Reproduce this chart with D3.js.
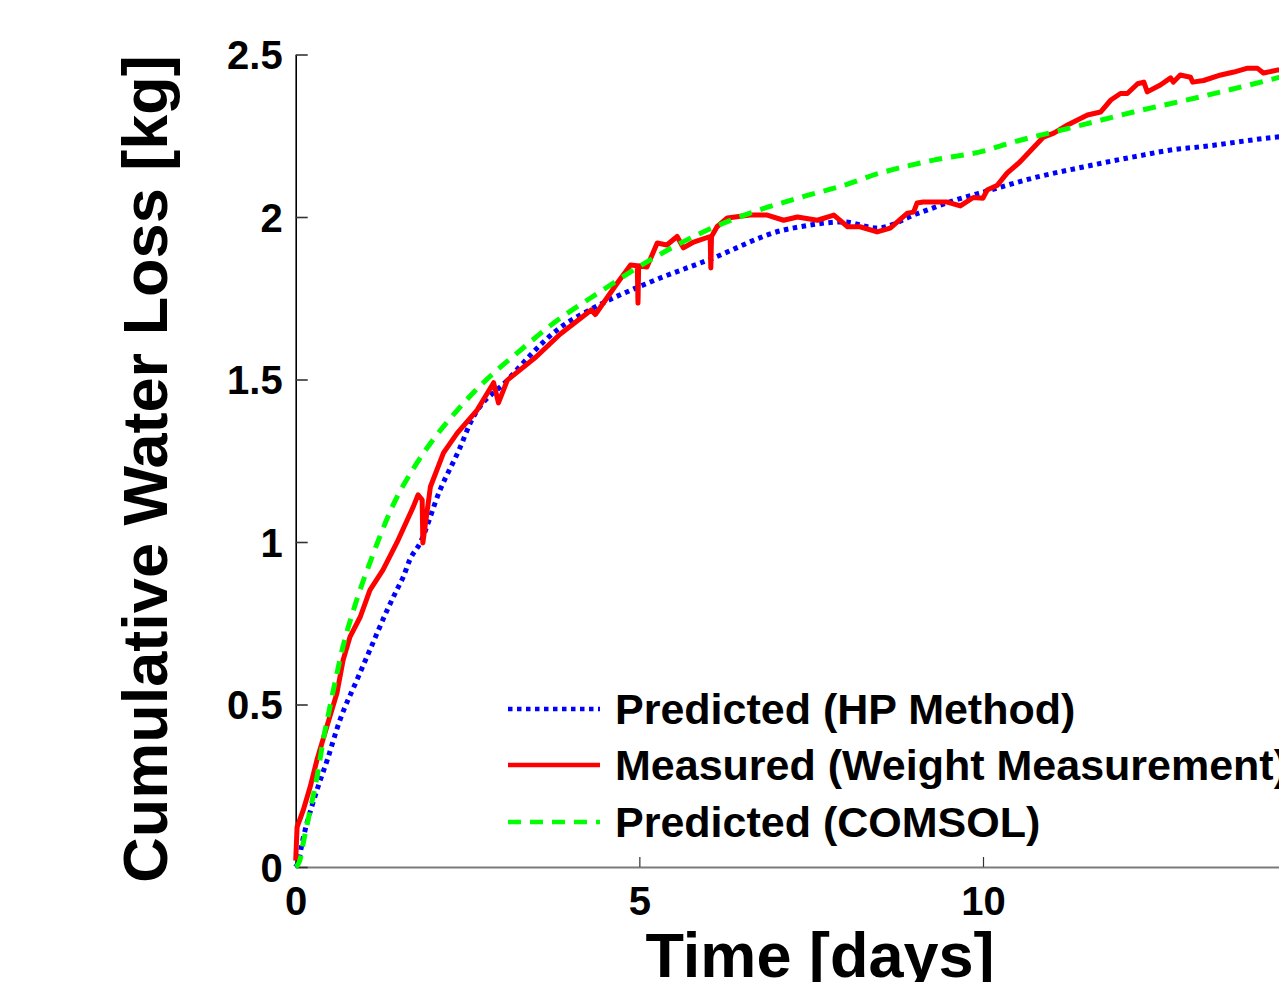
<!DOCTYPE html>
<html>
<head>
<meta charset="utf-8">
<script src="https://cdn.jsdelivr.net/npm/d3@7"></script>
<style>
  html, body { margin: 0; padding: 0; background: #fff; overflow: hidden; }
  svg { display: block; }
  svg text { font-family: Arial, "Liberation Sans", Helvetica, sans-serif; font-weight: 700; }
</style>
</head>
<body>
<svg id="chart" width="1279" height="982"></svg>
<script>
// Time [days] and cumulative water loss [kg]
const hpDays = [0, 0.03, 0.11, 0.31, 0.46, 0.64, 0.89, 1.08, 1.33, 1.47, 1.56, 1.66, 1.81, 2.10, 2.39, 2.54, 3.08, 3.85, 4.33, 5.16, 6.03, 7.10, 7.34, 7.97, 8.46, 9.04, 9.57, 10.06, 10.73, 11.46, 12.19, 12.87, 13.12, 14.28, 14.5];
const hpLoss = [0, 0.012, 0.09, 0.237, 0.33, 0.45, 0.575, 0.668, 0.79, 0.852, 0.89, 0.945, 0.997, 1.16, 1.29, 1.366, 1.498, 1.66, 1.72, 1.80, 1.87, 1.96, 1.97, 1.985, 1.966, 2.01, 2.05, 2.08, 2.12, 2.154, 2.185, 2.21, 2.215, 2.246, 2.25];

const measDays = [0, 0.02, 0.11, 0.21, 0.31, 0.45, 0.60, 0.69, 0.79, 0.94, 1.08, 1.27, 1.47, 1.71, 1.78, 1.84, 1.85, 1.96, 2.15, 2.35, 2.64, 2.88, 2.95, 3.08, 3.5, 3.85, 4.30, 4.36, 4.68, 4.87, 4.97, 4.98, 4.99, 5.11, 5.26, 5.40, 5.55, 5.64, 5.79, 6.03, 6.04, 6.05, 6.13, 6.28, 6.61, 6.86, 7.10, 7.30, 7.59, 7.83, 8.03, 8.21, 8.46, 8.65, 8.90, 8.99, 9.04, 9.13, 9.48, 9.67, 9.86, 10.0, 10.06, 10.21, 10.35, 10.54, 10.88, 11.03, 11.23, 11.52, 11.71, 11.86, 12.0, 12.1, 12.25, 12.34, 12.39, 12.58, 12.73, 12.77, 12.87, 13.02, 13.05, 13.21, 13.46, 13.65, 13.85, 13.99, 14.08, 14.28, 14.5];
const measLoss = [0.02, 0.123, 0.175, 0.246, 0.33, 0.43, 0.535, 0.637, 0.708, 0.77, 0.852, 0.914, 0.997, 1.108, 1.145, 1.13, 0.997, 1.17, 1.274, 1.335, 1.406, 1.49, 1.428, 1.498, 1.57, 1.64, 1.714, 1.70, 1.797, 1.852, 1.85, 1.735, 1.85, 1.846, 1.92, 1.914, 1.94, 1.905, 1.923, 1.94, 1.843, 1.94, 1.97, 1.997, 2.006, 2.006, 1.99, 2.0, 1.99, 2.006, 1.97, 1.97, 1.954, 1.966, 2.012, 2.015, 2.043, 2.046, 2.046, 2.034, 2.06, 2.058, 2.083, 2.098, 2.135, 2.17, 2.246, 2.258, 2.283, 2.314, 2.323, 2.36, 2.38, 2.38, 2.41, 2.415, 2.385, 2.406, 2.428, 2.415, 2.437, 2.43, 2.415, 2.42, 2.437, 2.446, 2.458, 2.458, 2.443, 2.452, 2.455];

const comsolDays = [0, 0.06, 0.11, 0.21, 0.31, 0.40, 0.50, 0.60, 0.69, 0.84, 0.97, 1.06, 1.23, 1.42, 1.71, 2.0, 2.35, 2.68, 3.27, 3.70, 4.43, 5.16, 5.89, 6.61, 7.34, 8.07, 8.32, 9.28, 10.06, 10.3, 11.23, 12.19, 13.17, 14.28, 14.5];
const comsolLoss = [0, 0.02, 0.074, 0.175, 0.277, 0.39, 0.495, 0.596, 0.68, 0.79, 0.873, 0.925, 1.02, 1.115, 1.225, 1.315, 1.405, 1.48, 1.59, 1.665, 1.77, 1.868, 1.95, 2.012, 2.06, 2.104, 2.123, 2.175, 2.206, 2.222, 2.272, 2.323, 2.37, 2.428, 2.44];

const xTicks = [0, 5, 10];
const yTicks = [0, 0.5, 1, 1.5, 2, 2.5];
const seriesNames = ["Predicted (HP Method)", "Measured (Weight Measurement)", "Predicted (COMSOL)"];

const series = [
  { name: seriesNames[0], x: hpDays, y: hpLoss, color: "#0000ff", dash: "4.5,4.5", curve: d3.curveMonotoneX },
  { name: seriesNames[1], x: measDays, y: measLoss, color: "#ff0000", dash: null, curve: d3.curveLinear },
  { name: seriesNames[2], x: comsolDays, y: comsolLoss, color: "#00ff00", dash: "13,9", curve: d3.curveMonotoneX }
];

const svg = d3.select("#chart");

// axes box geometry (the right side runs past the picture edge)
const x0 = 295.7, pxPerDay = 68.73;
const xScale = d3.scaleLinear().domain([0, 15]).range([x0, x0 + 15 * pxPerDay]);
const yScale = d3.scaleLinear().domain([0, 2.5]).range([867, 54.5]);

// x axis
const xAxis = d3.axisBottom(xScale).tickValues(xTicks).tickFormat(d3.format("d"))
  .tickSizeInner(-10).tickSizeOuter(0).tickPadding(20);
const gx = svg.append("g")
  .attr("class", "x-axis")
  .attr("transform", `translate(0, ${yScale(0)})`)
  .call(xAxis);
gx.select(".domain").attr("stroke", "#7a7a7a").attr("stroke-width", 2.2);
gx.selectAll(".tick line").attr("stroke", "#333").attr("stroke-width", 1.2);
gx.selectAll(".tick text")
  .attr("fill", "#000")
  .style("font-size", "40px");

// y axis
const yAxis = d3.axisLeft(yScale).tickValues(yTicks).tickFormat(d => d)
  .tickSizeInner(-12).tickSizeOuter(0).tickPadding(13);
const gy = svg.append("g")
  .attr("class", "y-axis")
  .attr("transform", `translate(${xScale(0)}, 0)`)
  .call(yAxis);
gy.select(".domain").attr("stroke", "#000").attr("stroke-width", 1.6);
gy.selectAll(".tick line").attr("stroke", "#333").attr("stroke-width", 1.6);
gy.selectAll(".tick text")
  .attr("fill", "#000")
  .attr("dy", "0.36em")
  .style("font-size", "40px");

// axis groups set their own font attributes; drop them so the css font applies
svg.selectAll(".x-axis, .y-axis").attr("font-family", null).attr("font-size", null);

// series lines
series.forEach(s => {
  const line = d3.line()
    .x(d => xScale(d[0]))
    .y(d => yScale(d[1]))
    .curve(s.curve);
  const pts = s.x.map((v, i) => [v, s.y[i]]);
  svg.append("path")
    .datum(pts)
    .attr("fill", "none")
    .attr("stroke", s.color)
    .attr("stroke-width", 5)
    .attr("stroke-linejoin", "round")
    .attr("stroke-dasharray", s.dash)
    .attr("d", line);
});

// legend (no box)
const legend = svg.append("g").attr("class", "legend");
const rowY = [709, 765, 822];
series.forEach((s, i) => {
  legend.append("line")
    .attr("x1", 508).attr("x2", 600)
    .attr("y1", rowY[i]).attr("y2", rowY[i])
    .attr("stroke", s.color)
    .attr("stroke-width", 4.5)
    .attr("stroke-dasharray", s.dash);
  legend.append("text")
    .attr("x", 615)
    .attr("y", rowY[i])
    .attr("dy", "0.36em")
    .style("font-size", "43px")
    .text(s.name);
});

// axis titles
svg.append("text")
  .attr("x", 820)
  .attr("y", 977)
  .attr("text-anchor", "middle")
  .style("font-size", "63px")
  .text("Time [days]");

svg.append("text")
  .attr("transform", "translate(167, 469) rotate(-90)")
  .attr("text-anchor", "middle")
  .style("font-size", "63px")
  .text("Cumulative Water Loss [kg]");
</script>
</body>
</html>
